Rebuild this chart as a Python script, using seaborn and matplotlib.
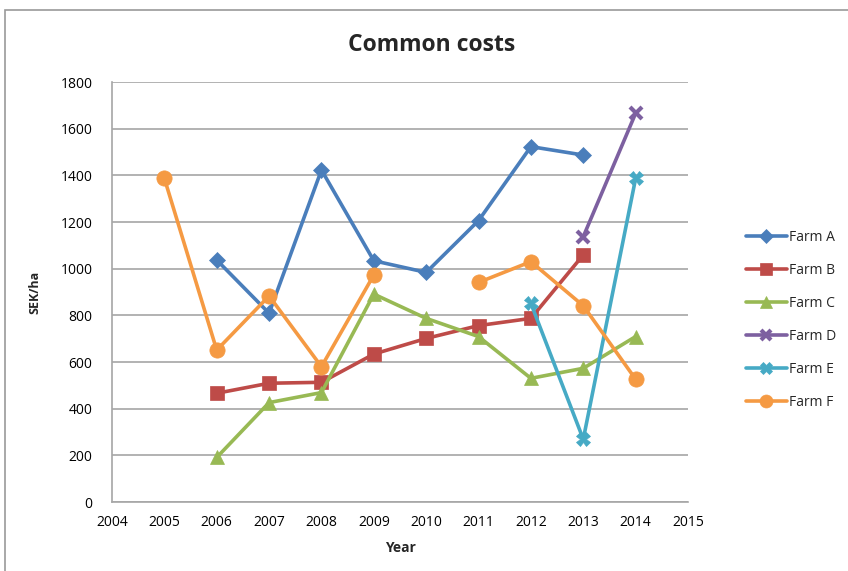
import numpy as np
import pandas as pd
import matplotlib
matplotlib.use("Agg")
import matplotlib.pyplot as plt
from matplotlib.lines import Line2D
from matplotlib.patches import Rectangle
import seaborn as sns

years = [2005, 2006, 2007, 2008, 2009, 2010, 2011, 2012, 2013, 2014]
farm_a = [np.nan, 1037, 809, 1423, 1034, 984, 1206, 1523, 1487, np.nan]
farm_b = [np.nan, 466, 509, 513, 634, 701, 756, 787, 1059, np.nan]
farm_c = [np.nan, 191, 426, 469, 891, 787, 709, 530, 573, 709]
farm_d = [np.nan, np.nan, np.nan, np.nan, np.nan, np.nan, np.nan, np.nan, 1137, 1666]
farm_e = [np.nan, np.nan, np.nan, np.nan, np.nan, np.nan, np.nan, 851, 269, 1387]
farm_f = [1387, 651, 883, 580, 973, np.nan, 941, 1030, 841, 526]

farms = ["Farm A", "Farm B", "Farm C", "Farm D", "Farm E", "Farm F"]
series = [farm_a, farm_b, farm_c, farm_d, farm_e, farm_f]
colors = ["#4a7ebb", "#be4b48", "#98b954", "#7d60a0", "#46aac5", "#f59a43"]
markers = ["D", "s", "^", "x", "X", "o"]
msizes = [8, 10, 10, 9, 10, 11]

sns.set_theme(style="white")
plt.rcParams["font.family"] = ["Open Sans", "DejaVu Sans"]

fig = plt.figure(figsize=(8.48, 5.71), dpi=100)
W, H = 848, 571
ax = fig.add_axes([112 / W, (H - 502) / H, (688 - 112) / W, (502 - 82) / H])

# outer chart frame
fig.patches.append(Rectangle((5 / W, -0.05), 1.2, (H - 10) / H + 0.05,
                             transform=fig.transFigure, fill=False,
                             edgecolor="#9a9a9a", linewidth=1.2))

for name, vals, col, mk, ms in zip(farms, series, colors, markers, msizes):
    df = pd.DataFrame({"Year": years, "Cost": vals})
    df["seg"] = df["Cost"].isna().cumsum()
    df = df.dropna()
    mew = 3 if mk == "x" else 0.5
    sns.lineplot(data=df, x="Year", y="Cost", units="seg", estimator=None,
                 color=col, marker=mk, markersize=ms, markeredgecolor=col,
                 markeredgewidth=mew, linewidth=2.6, ax=ax, legend=False)

ax.set_xlim(2004, 2015)
ax.set_ylim(0, 1800)
ax.set_xticks(range(2004, 2016))
ax.set_yticks(range(0, 1801, 200))
ax.yaxis.grid(True, color="#a6a6a6", linewidth=1.2)
ax.set_axisbelow(True)
for s in ["top", "right"]:
    ax.spines[s].set_visible(False)
for s in ["left", "bottom"]:
    ax.spines[s].set_color("#a6a6a6")
    ax.spines[s].set_linewidth(1.2)
ax.tick_params(axis="both", length=0, labelsize=10, colors="black")
ax.tick_params(axis="x", pad=9)
ax.tick_params(axis="y", pad=14)

ax.set_xlabel("Year", fontsize=10, fontweight="bold", labelpad=8)
ax.set_ylabel("SEK/ha", fontsize=9, fontweight="bold", labelpad=14)
fig.text(432 / W, 1 - 45 / H, "Common costs", ha="center", va="center",
         fontsize=16.5, fontweight="bold")

handles = [Line2D([0], [0], color=c, marker=m, markersize=ms * 0.85, linewidth=2.6,
                  markeredgecolor=c, markeredgewidth=(3 if m == "x" else 0.5))
           for c, m, ms in zip(colors, markers, msizes)]
fig.legend(handles, farms, loc="center left", bbox_to_anchor=(740 / W, 1 - 320 / H),
           frameon=False, fontsize=10, handlelength=3.0, labelspacing=1.3,
           handletextpad=0.1, borderaxespad=0)

fig.savefig("out.png", dpi=100)
